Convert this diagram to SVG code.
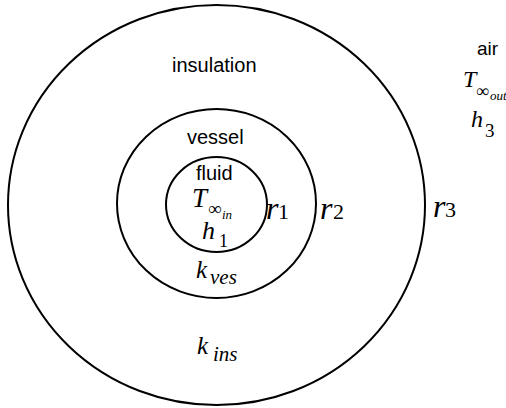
<svg xmlns="http://www.w3.org/2000/svg" width="506" height="408" viewBox="0 0 506 408">
<style>
.ring{fill:none;stroke:#000;stroke-width:2}
.lbl{font-family:"Liberation Sans",Arial,sans-serif;font-size:20px;fill:#000}
.m{font-family:"Liberation Serif","Times New Roman",serif;font-style:italic;fill:#000}
.n{font-style:normal}
</style>
<rect width="506" height="408" fill="#fff"/>
<g id="insulation">
<ellipse class="ring" cx="216.5" cy="205" rx="208.5" ry="200"/>
<text class="lbl" x="172" y="72">insulation</text>
<text class="m" x="197" y="354" font-size="25">k<tspan font-size="21" x="213" y="361">ins</tspan></text>
</g>
<g id="vessel">
<ellipse class="ring" cx="216.5" cy="203.5" rx="99.5" ry="94.5"/>
<text class="lbl" x="187" y="144">vessel</text>
<text class="m" x="196" y="278" font-size="25">k<tspan font-size="21" x="210" y="284">ves</tspan></text>
</g>
<g id="fluid">
<ellipse class="ring" cx="216.5" cy="204.5" rx="50.5" ry="47.5"/>
<text class="lbl" x="196" y="180">fluid</text>
<text class="m" x="192" y="207" font-size="27">T<tspan class="n" font-size="19" x="208" y="215">∞</tspan><tspan font-size="13" x="222" y="219">in</tspan></text>
<text class="m" x="202" y="239" font-size="26">h<tspan class="n" font-size="18" x="219" y="247">1</tspan></text>
</g>
<g id="air">
<text class="lbl" x="477" y="55" style="font-size:19px">air</text>
<text class="m" x="463" y="87" font-size="24">T<tspan class="n" font-size="18" x="476" y="97">∞</tspan><tspan font-size="13" x="490" y="100">out</tspan></text>
<text class="m" x="471" y="127" font-size="24">h<tspan class="n" font-size="19" x="485" y="137">3</tspan></text>
</g>
<g id="connectors">
<text class="m" x="266" y="219" font-size="32">r<tspan class="n" font-size="22" x="278" y="219">1</tspan></text>
<text class="m" x="320" y="219" font-size="32">r<tspan class="n" font-size="22" x="333" y="219">2</tspan></text>
<text class="m" x="433" y="217" font-size="32">r<tspan class="n" font-size="22" x="445" y="217">3</tspan></text>
</g>
</svg>
